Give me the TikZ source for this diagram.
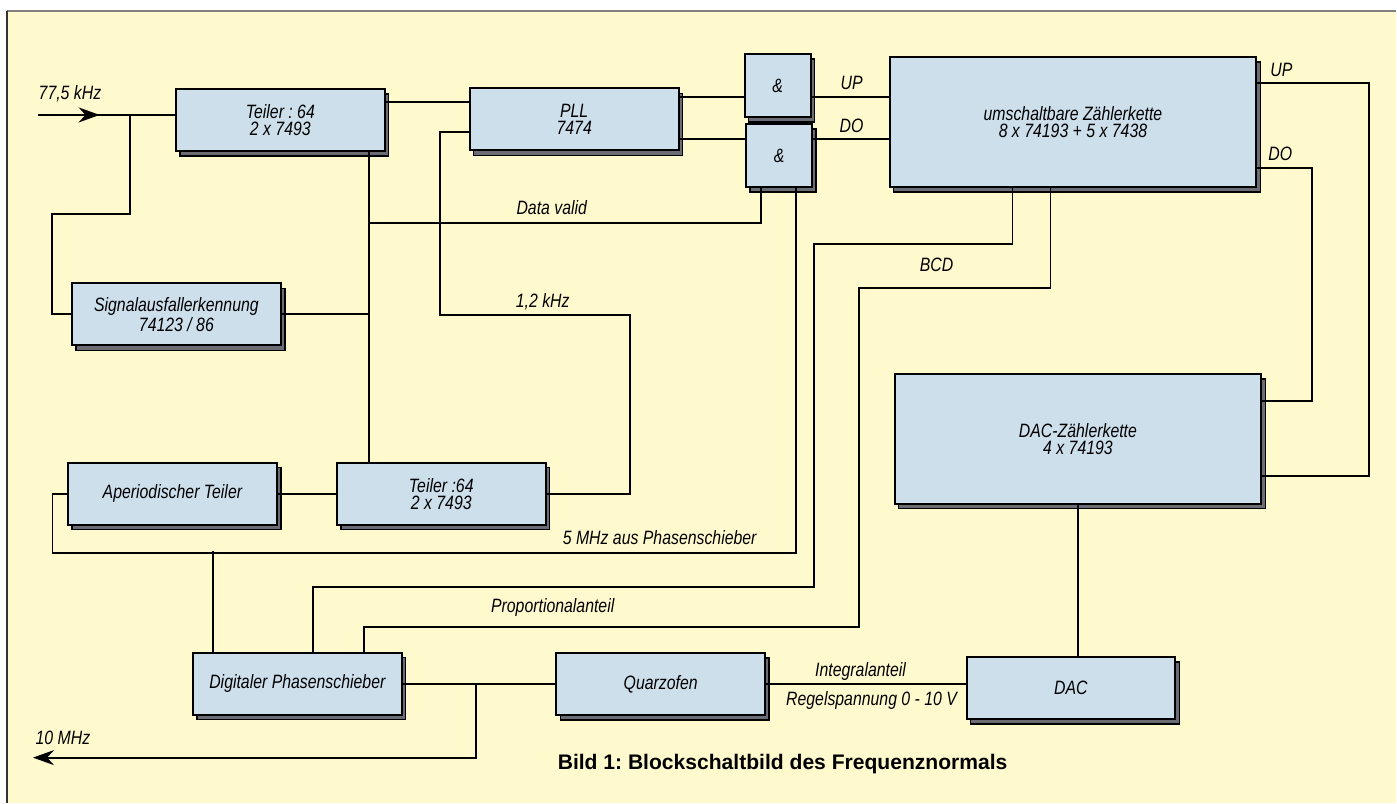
\documentclass[tikz,border=0pt]{standalone}
\usepackage{fontspec}
\setmainfont{Liberation Sans}[FakeStretch=0.82]
\newfontfamily\titelfont{Liberation Sans}
\usepackage{xcolor}
\usetikzlibrary{shadows,arrows.meta,decorations.markings}
\definecolor{panel}{RGB}{255,250,206}
\definecolor{boxblue}{RGB}{206,223,236}
\definecolor{shadowgray}{RGB}{108,108,116}
\frenchspacing

\begin{document}
\begin{tikzpicture}[x=0.02cm, y=-0.02cm, line width=1.1pt,
  blk/.style={draw=black, fill=boxblue, minimum width=4.18cm, minimum height=1.24cm, inner sep=0pt, align=center,
    font=\itshape\fontsize{11}{9.8}\selectfont,
    copy shadow={shadow xshift=0.08cm, shadow yshift=-0.1cm, fill=shadowgray, draw=black, line width=0.8pt}},
  bigblk/.style={blk, minimum width=7.34cm, minimum height=2.6cm},
  gate/.style={blk, minimum width=1.32cm, minimum height=1.26cm},
  lbl/.style={font=\itshape\fontsize{11}{13}\selectfont, inner sep=0pt, text height=8pt, text depth=0pt},
  tip/.style={-{Stealth[length=0.42cm,width=0.3cm]}}]
\fill[white] (0,0) rectangle (1397,803);
\fill[panel] (7,11) rectangle (1397,803);
\draw[gray, line width=0.8pt] (7,11) -- (1397,11);
\draw[black!80, line width=1.2pt] (7,11) -- (7,803);
\useasboundingbox (0,0) rectangle (1397,803);

\node[blk] (teilerA) at (280.5,120) {Teiler : 64\\2 x 7493};
\node[blk] (pll) at (574.5,119.5) {PLL\\7474};
\node[gate] (gateA) at (778,85.5) {\&};
\node[gate] (gateB) at (779.5,155.5) {\&};
\node[bigblk] (zkette) at (1073.5,122) {umschaltbare Zählerkette\\8 x 74193 + 5 x 7438};
\node[blk] (signal) at (176.5,314.5) {Signalausfallerkennung\\74123 / 86};
\node[blk] (aper) at (172.5,494) {Aperiodischer Teiler};
\node[blk] (teilerB) at (441.5,494) {Teiler :64\\2 x 7493};
\node[bigblk] (dkette) at (1078.5,439) {DAC-Zählerkette\\4 x 74193};
\node[blk] (phase) at (297.5,684) {Digitaler Phasenschieber};
\node[blk] (quarz) at (661,684.5) {Quarzofen};
\node[blk] (dac) at (1071.5,688.5) {DAC};

\coordinate (inA) at (38,115);
\coordinate (outA) at (33,758);

% eingang
\draw[postaction={decorate}, decoration={markings, mark=at position 0.45 with {\arrow{Stealth[length=0.42cm,width=0.3cm]}}}] (inA) -- (inA -| teilerA.west);
\draw (inA) ++(92,0) -- ++(0,99) -- ++(-78,0) |- (signal.west);
\draw ([yshift=0.36cm]teilerA.east) -- ([yshift=0.36cm]teilerA.east -| pll.west);
\draw ([yshift=-0.25cm]pll.west) -- ++(-29,0) -- ++(0,183) -- ++(190,0) |- (teilerB.east);
\draw ([xshift=1.77cm]teilerA.south) coordinate (jC) -- (jC |- teilerB.north);
\draw (signal.east) -- (signal.east -| jC);
\draw ([xshift=-0.36cm]gateB.south) -- ++(0,35) -- ++(-392,0);
% gatter
\draw ([yshift=0.45cm]pll.east) -- ([yshift=0.45cm]pll.east -| gateA.west);
\draw ([yshift=-0.39cm]pll.east) -- ([yshift=-0.39cm]pll.east -| gateB.west);
\draw ([yshift=-0.23cm]gateA.east) -- ([yshift=-0.23cm]gateA.east -| zkette.west);
\draw ([yshift=0.33cm]gateB.east) -- ([yshift=0.33cm]gateB.east -| zkette.west);
% zaehler
\draw ([yshift=0.78cm]zkette.east) -- ++(112,0) |- ([yshift=-0.74cm]dkette.east);
\draw ([yshift=-0.92cm]zkette.east) -- ++(55,0) |- ([yshift=0.76cm]dkette.east);
\draw ([xshift=-1.21cm]zkette.south) -- ++(0,56) -- ++(-199,0) -- ++(0,343) -| ([xshift=0.31cm]phase.north);
\draw ([xshift=-0.45cm]zkette.south) -- ++(0,100) -- ++(-192,0) -- ++(0,339) -| ([xshift=1.33cm]phase.north);
% 5 MHz
\draw ([xshift=0.34cm]gateB.south) -- ++(0,365) -- ++(-744,0) |- (aper.west);
\draw ([xshift=-1.69cm]phase.north) -- ++(0,-101);
\draw (aper.east) -- (teilerB.west);
% ausgang
\draw (phase.east) -- (phase.east -| quarz.west);
\draw[tip] ([xshift=1.46cm]phase.east) |- (outA);
\draw (quarz.east) -- (quarz.east -| dac.west);
\draw (dkette.south) -- (dkette.south |- dac.north);

\node[lbl] (lIn) at (70,93) {77,5 kHz};
\node[lbl] (lOut) at (63,738) {10 MHz};
\node[lbl] (lValid) at (552,208) {Data valid};
\node[lbl] (lKHz) at (543,301) {1,2 kHz};
\node[lbl] (lUpA) at (852,83) {UP};
\node[lbl] (lDoA) at (852,126) {DO};
\node[lbl] (lUpB) at (1282,70) {UP};
\node[lbl] (lDoB) at (1281,154) {DO};
\node[lbl] (lBcd) at (937,265) {BCD};
\node[lbl] (lMHz) at (660,538) {5 MHz aus Phasenschieber};
\node[lbl] (lProp) at (553,606) {Proportionalanteil};
\node[lbl] (lInt) at (861,670) {Integralanteil};
\node[lbl] (lRegel) at (872,699) {Regelspannung 0 - 10 V};
\node[font=\titelfont\bfseries\fontsize{12}{14}\selectfont, inner sep=0pt] (titel) at (783,764) {Bild 1: Blockschaltbild des Frequenznormals};
\end{tikzpicture}
\end{document}
